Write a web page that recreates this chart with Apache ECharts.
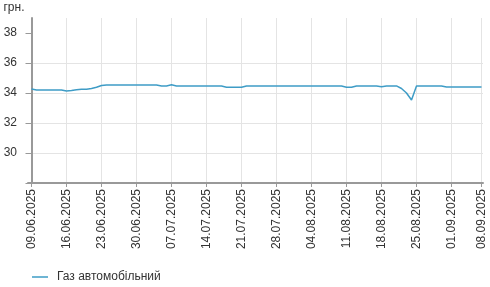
<!DOCTYPE html>
<html>
<head>
<meta charset="utf-8">
<script src="https://cdn.jsdelivr.net/npm/echarts@6/dist/echarts.min.js"></script>
<style>
html,body{margin:0;padding:0;background:#fff;}
#chart{width:490px;height:287px;}
</style>
</head>
<body>
<div id="chart"></div>
<script>
const seriesName = 'Газ автомобільний';
const unitName = 'грн.';
const dates = [
'09.06.2025','10.06.2025','11.06.2025','12.06.2025','13.06.2025','14.06.2025','15.06.2025',
'16.06.2025','17.06.2025','18.06.2025','19.06.2025','20.06.2025','21.06.2025','22.06.2025',
'23.06.2025','24.06.2025','25.06.2025','26.06.2025','27.06.2025','28.06.2025','29.06.2025',
'30.06.2025','01.07.2025','02.07.2025','03.07.2025','04.07.2025','05.07.2025','06.07.2025',
'07.07.2025','08.07.2025','09.07.2025','10.07.2025','11.07.2025','12.07.2025','13.07.2025',
'14.07.2025','15.07.2025','16.07.2025','17.07.2025','18.07.2025','19.07.2025','20.07.2025',
'21.07.2025','22.07.2025','23.07.2025','24.07.2025','25.07.2025','26.07.2025','27.07.2025',
'28.07.2025','29.07.2025','30.07.2025','31.07.2025','01.08.2025','02.08.2025','03.08.2025',
'04.08.2025','05.08.2025','06.08.2025','07.08.2025','08.08.2025','09.08.2025','10.08.2025',
'11.08.2025','12.08.2025','13.08.2025','14.08.2025','15.08.2025','16.08.2025','17.08.2025',
'18.08.2025','19.08.2025','20.08.2025','21.08.2025','22.08.2025','23.08.2025','24.08.2025',
'25.08.2025','26.08.2025','27.08.2025','28.08.2025','29.08.2025','30.08.2025','31.08.2025',
'01.09.2025','02.09.2025','03.09.2025','04.09.2025','05.09.2025','06.09.2025','08.09.2025'
];
const values = [
34.27,34.20,34.20,34.20,34.20,34.20,34.20,
34.13,34.17,34.22,34.25,34.25,34.30,34.38,
34.50,34.53,34.53,34.53,34.53,34.53,34.53,
34.53,34.53,34.53,34.53,34.53,34.47,34.47,
34.55,34.47,34.47,34.47,34.47,34.47,34.47,
34.47,34.47,34.47,34.47,34.38,34.38,34.38,
34.38,34.47,34.47,34.47,34.47,34.47,34.47,
34.47,34.47,34.47,34.47,34.47,34.47,34.47,
34.47,34.47,34.47,34.47,34.47,34.47,34.47,
34.38,34.38,34.47,34.47,34.47,34.47,34.47,
34.42,34.47,34.47,34.47,34.30,34.00,33.53,
34.47,34.47,34.47,34.47,34.47,34.47,34.40,
34.40,34.40,34.40,34.40,34.40,34.40,34.40
];
const tickDates = ['09.06.2025','16.06.2025','23.06.2025','30.06.2025','07.07.2025','14.07.2025','21.07.2025',
  '28.07.2025','04.08.2025','11.08.2025','18.08.2025','25.08.2025','01.09.2025','08.09.2025'];
const yTickValues = [28,30,32,34,36,38];
const yLabelValues = [30,32,34,36,38];

const FONT = '"Liberation Sans", Arial, sans-serif';
const tickIdx = tickDates.map(d => dates.indexOf(d));
const chart = echarts.init(document.getElementById('chart'), null, {renderer:'canvas'});
chart.setOption({
  animation:false,
  textStyle:{fontFamily:FONT},
  grid:{left:28,right:7,top:18,bottom:104,containLabel:false,outerBoundsMode:'none'},
  legend:{
    left:27, top:266, icon:'rect', itemWidth:16, itemHeight:1.5,
    textStyle:{fontFamily:FONT,fontSize:12,color:'#333',padding:[0,0,0,4]},
    data:[seriesName]
  },
  xAxis:{
    type:'value', min:-0.7, max:90.3,
    axisLine:{show:true,onZero:false,lineStyle:{color:'#999',width:2}},
    axisTick:{show:true,length:4,customValues:tickIdx,lineStyle:{color:'#999'}},
    axisLabel:{customValues:tickIdx,rotate:90,margin:6,fontSize:12,color:'#333',fontFamily:FONT,
      formatter:v => dates[Math.round(v)]},
    splitLine:{show:true,lineStyle:{color:'#e4e4e4',width:1}}
  },
  yAxis:{
    type:'value', min:28, max:39,
    name:unitName, nameLocation:'end', nameGap:4,
    nameTextStyle:{fontFamily:FONT,fontSize:12,color:'#333',align:'right',padding:[0,7,0,0]},
    axisLine:{show:true,lineStyle:{color:'#999',width:2}},
    axisTick:{show:true,length:6,customValues:yTickValues,lineStyle:{color:'#999'}},
    axisLabel:{customValues:yLabelValues,margin:11,fontSize:12,color:'#333',fontFamily:FONT},
    splitLine:{show:true,showMinLine:false,showMaxLine:false,lineStyle:{color:'#e4e4e4',width:1}}
  },
  series:[{
    name:seriesName, type:'line', symbol:'none', showSymbol:false,
    lineStyle:{color:'#3e9cc6',width:1.5}, itemStyle:{color:'#3e9cc6'},
    data: values.map((v,i) => [i, v])
  }]
});
</script>
</body>
</html>
